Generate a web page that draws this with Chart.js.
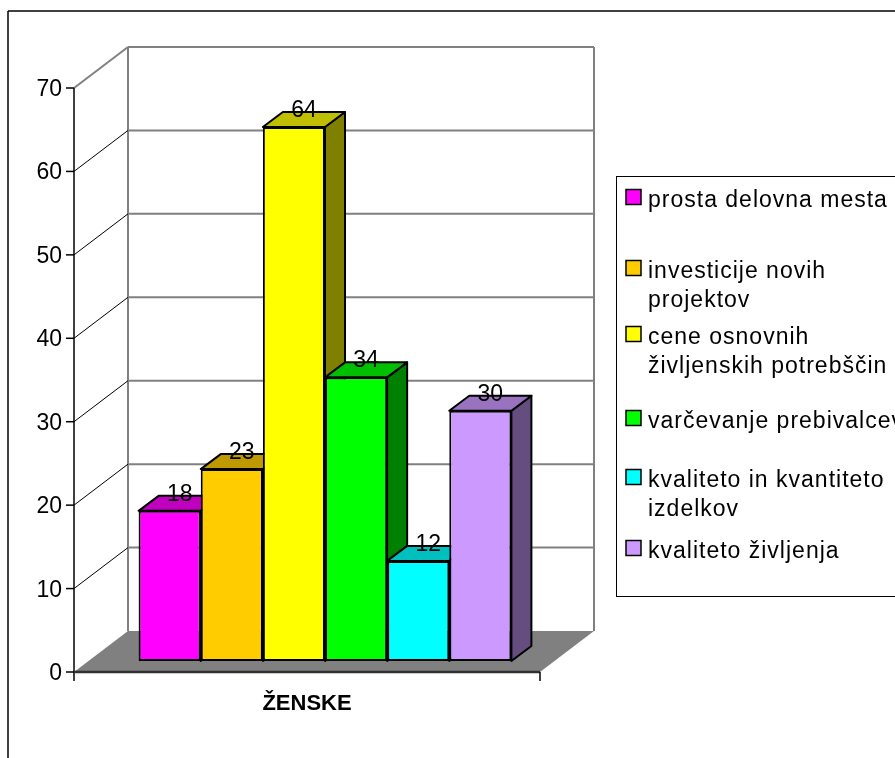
<!DOCTYPE html>
<html>
<head>
<meta charset="utf-8">
<title>ŽENSKE</title>
<script src="https://cdn.jsdelivr.net/npm/chart.js"></script>
<style>
  html, body { margin: 0; padding: 0; background: #fff; }
  #wrap { position: relative; width: 895px; height: 758px; }
</style>
</head>
<body>
<div id="wrap"><canvas id="chart"></canvas></div>
<script>
var categories = ['ŽENSKE'];
var seriesNames = [
  ['prosta delovna mesta'],
  ['investicije novih', 'projektov'],
  ['cene osnovnih', 'življenskih potrebščin'],
  ['varčevanje prebivalcev'],
  ['kvaliteto in kvantiteto', 'izdelkov'],
  ['kvaliteto življenja']
];
var seriesValues = [18, 23, 64, 34, 12, 30];
var yTicks = [0, 10, 20, 30, 40, 50, 60, 70];
var barColors = ['#FF00FF', '#FFCC00', '#FFFF00', '#00FF00', '#00FFFF', '#CC99FF'];

var FONT = '"Liberation Sans", Arial, sans-serif';
// oblique offsets (relative to the plane the bar fronts stand in)
var FRONT = { dx: -18, dy: 11 };
var BACK = { dx: 36, dy: -30 };
var DEPTH = { dx: 20, dy: -15 };

function shade(hex, f) {
  var n = parseInt(hex.slice(1), 16);
  var r = Math.round(((n >> 16) & 255) * f);
  var g = Math.round(((n >> 8) & 255) * f);
  var b = Math.round((n & 255) * f);
  return 'rgb(' + r + ',' + g + ',' + b + ')';
}

function line(ctx, x1, y1, x2, y2) {
  ctx.beginPath();
  ctx.moveTo(x1, y1);
  ctx.lineTo(x2, y2);
  ctx.stroke();
}

function poly(ctx, pts, fill) {
  ctx.beginPath();
  ctx.moveTo(pts[0][0], pts[0][1]);
  for (var i = 1; i < pts.length; i++) ctx.lineTo(pts[i][0], pts[i][1]);
  ctx.closePath();
  ctx.fillStyle = fill;
  ctx.fill();
  ctx.stroke();
}

var box3d = {
  id: 'box3d',
  beforeDatasetsDraw: function(chart) {
    var ctx = chart.ctx, ys = chart.scales.y, a = chart.chartArea;
    var y0 = ys.getPixelForValue(0);
    var yMax = ys.getPixelForValue(yTicks[yTicks.length - 1]);
    var fl = a.left + FRONT.dx, fr = a.right + FRONT.dx;
    var bl = a.left + BACK.dx, br = a.right + BACK.dx;
    ctx.save();

    // floor
    ctx.fillStyle = '#808080';
    ctx.beginPath();
    ctx.moveTo(fl, y0 + FRONT.dy);
    ctx.lineTo(fr, y0 + FRONT.dy);
    ctx.lineTo(br, y0 + BACK.dy);
    ctx.lineTo(bl, y0 + BACK.dy);
    ctx.closePath();
    ctx.fill();

    // back wall
    ctx.strokeStyle = '#808080';
    ctx.lineWidth = 2;
    yTicks.forEach(function(t) {
      if (t === 0) return;
      var py = ys.getPixelForValue(t) + BACK.dy;
      line(ctx, bl, py, br, py);
    });
    line(ctx, bl, yMax + BACK.dy, bl, y0 + BACK.dy);
    line(ctx, br, yMax + BACK.dy, br, y0 + BACK.dy);
    line(ctx, fl, yMax + FRONT.dy, bl, yMax + BACK.dy);

    // side wall diagonals
    ctx.strokeStyle = '#000';
    ctx.lineWidth = 1;
    yTicks.forEach(function(t) {
      if (t === 0 || t === yTicks[yTicks.length - 1]) return;
      var py = ys.getPixelForValue(t);
      line(ctx, fl, py + FRONT.dy, bl, py + BACK.dy);
    });

    // front value axis
    ctx.lineWidth = 1.5;
    line(ctx, fl, yMax + FRONT.dy, fl, y0 + FRONT.dy + 9);
    ctx.fillStyle = '#000';
    ctx.font = '23px ' + FONT;
    ctx.textAlign = 'right';
    ctx.textBaseline = 'alphabetic';
    yTicks.forEach(function(t) {
      var py = ys.getPixelForValue(t) + FRONT.dy;
      line(ctx, fl - 8, py, fl, py);
      ctx.fillText(String(t), fl - 12, py + 8);
    });

    // category axis
    ctx.lineWidth = 2.5;
    ctx.strokeStyle = '#303030';
    line(ctx, fl, y0 + FRONT.dy, fr, y0 + FRONT.dy);
    ctx.lineWidth = 1.5;
    ctx.strokeStyle = '#000';
    line(ctx, fr, y0 + FRONT.dy, fr, y0 + FRONT.dy + 9);
    ctx.font = 'bold 22px ' + FONT;
    ctx.textAlign = 'center';
    var xs = chart.scales.x;
    categories.forEach(function(c, i) {
      ctx.fillText(c, xs.getPixelForValue(i) + FRONT.dx, y0 + FRONT.dy + 38);
    });

    // tops and sides of the bars (fronts are drawn by Chart.js on top)
    ctx.lineWidth = 2;
    ctx.strokeStyle = '#000';
    ctx.lineJoin = 'round';
    chart.data.datasets.forEach(function(ds, i) {
      var bar = chart.getDatasetMeta(i).data[0];
      var l = bar.x - bar.width / 2, r = bar.x + bar.width / 2;
      var top = bar.y, base = bar.base;
      poly(ctx, [[r, top], [r + DEPTH.dx, top + DEPTH.dy], [r + DEPTH.dx, base + DEPTH.dy], [r, base]], shade(barColors[i], 0.5));
      poly(ctx, [[l, top], [l + DEPTH.dx, top + DEPTH.dy], [r + DEPTH.dx, top + DEPTH.dy], [r, top]], shade(barColors[i], 0.75));
    });
    ctx.restore();
  },
  afterDatasetsDraw: function(chart) {
    var ctx = chart.ctx;
    ctx.save();
    ctx.fillStyle = '#000';
    ctx.font = '23px ' + FONT;
    ctx.textAlign = 'center';
    ctx.textBaseline = 'alphabetic';
    chart.data.datasets.forEach(function(ds, i) {
      var bar = chart.getDatasetMeta(i).data[0];
      ctx.fillText(String(ds.data[0]), bar.x + DEPTH.dx / 2, bar.y - 10);
    });
    ctx.restore();
  },
  afterDraw: function(chart) {
    var ctx = chart.ctx;
    ctx.save();
    // outer frame
    ctx.strokeStyle = '#404040';
    ctx.lineWidth = 2;
    line(ctx, 8, 11, 895, 11);
    ctx.lineWidth = 1.5;
    ctx.strokeStyle = '#000';
    line(ctx, 8, 11, 8, 758);

    // legend
    ctx.lineWidth = 1;
    ctx.strokeRect(616.5, 176.5, 300, 420);
    var rows = [197, 268, 334, 418, 477, 548];
    ctx.font = '23px ' + FONT;
    ctx.textAlign = 'left';
    ctx.textBaseline = 'alphabetic';
    if ('letterSpacing' in ctx) ctx.letterSpacing = '1px';
    seriesNames.forEach(function(lines, i) {
      var cy = rows[i];
      ctx.fillStyle = barColors[i];
      ctx.fillRect(626, cy - 7.5, 15, 15);
      ctx.lineWidth = 1.5;
      ctx.strokeRect(626, cy - 7.5, 15, 15);
      ctx.fillStyle = '#000';
      lines.forEach(function(t, k) {
        ctx.fillText(t, 648, cy + 10 + k * 29);
      });
    });
    ctx.restore();
  }
};

var datasets = seriesNames.map(function(name, i) {
  return {
    label: name.join(' '),
    data: [seriesValues[i]],
    backgroundColor: barColors[i],
    borderColor: '#000',
    borderWidth: 2,
    borderSkipped: false
  };
});

var ctx = document.getElementById('chart');
var chart = new Chart(ctx, {
  type: 'bar',
  data: {
    labels: categories,
    datasets: datasets
  },
  options: {
    responsive: true,
    maintainAspectRatio: false,
    animation: false,
    layout: { padding: { left: 92, right: 337, top: 77, bottom: 97 } },
    datasets: { bar: { categoryPercentage: 0.8, barPercentage: 1 } },
    scales: {
      x: { display: false },
      y: { display: false, min: 0, max: 70, ticks: { stepSize: 10 } }
    },
    plugins: {
      legend: { display: false },
      tooltip: { enabled: false }
    }
  },
  plugins: [box3d]
});
</script>
</body>
</html>
